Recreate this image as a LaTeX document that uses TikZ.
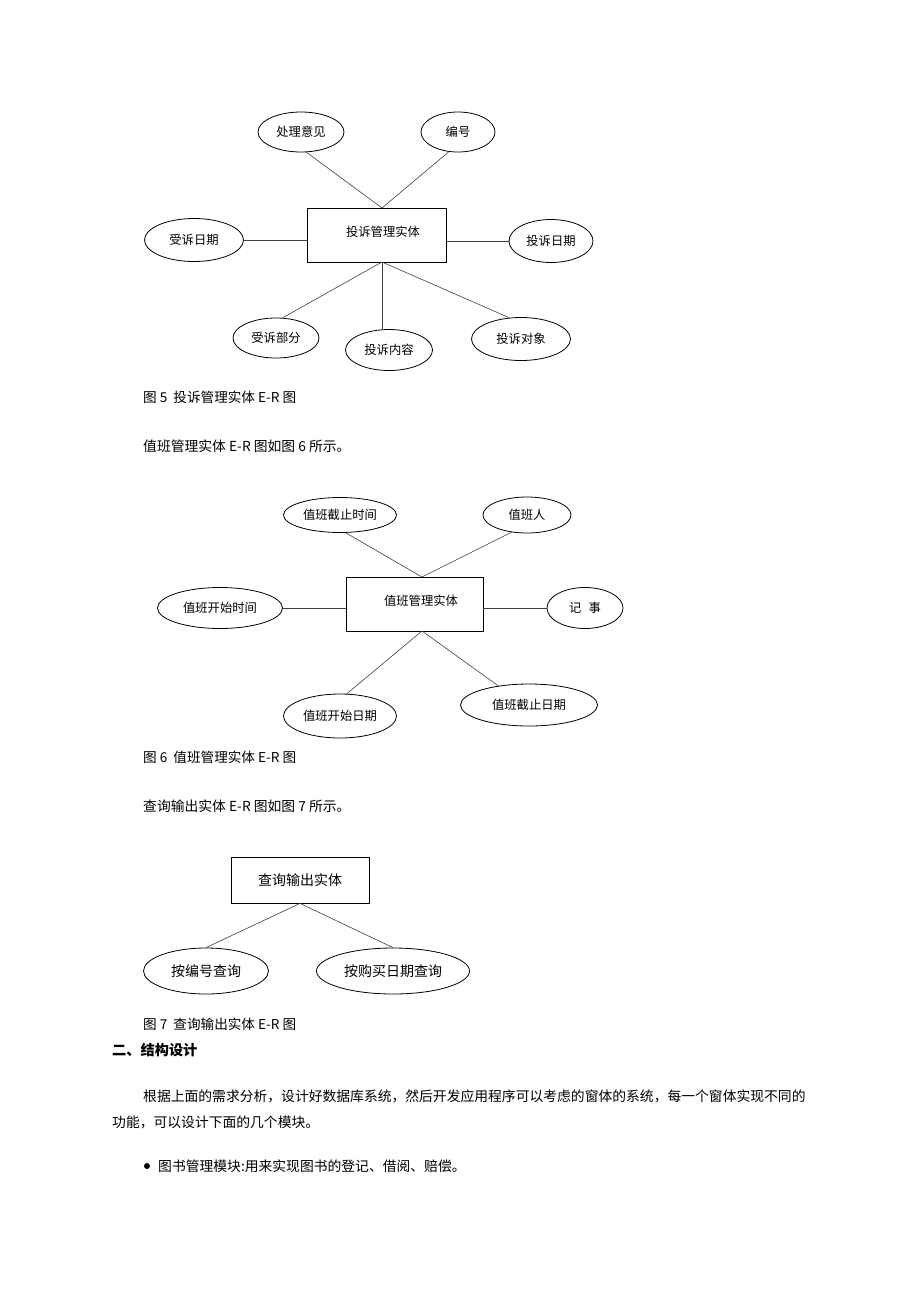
\documentclass[tikz,border=0pt]{standalone}
\usepackage{fontspec}
\setmainfont{Noto Sans CJK SC}
\usetikzlibrary{shapes.geometric}
\begin{document}
\begin{tikzpicture}[x=1pt,y=-1pt,
  attr/.style={ellipse,draw,line width=0.8pt,inner sep=0pt,font=\fontsize{12.3}{14}\selectfont},
  attrb/.style={attr,font=\fontsize{14}{16}\selectfont},
  ent/.style={rectangle,draw,line width=0.8pt,inner sep=0pt,font=\fontsize{12.3}{14}\selectfont},
  link/.style={line width=0.6pt,draw=black!75},
  txt/.style={anchor=west,inner sep=0pt,font=\fontsize{13.8}{16}\selectfont},
  captxt/.style={anchor=west,inner sep=0pt,font=\fontsize{13.6}{16}\selectfont}]
\fill[white] (0,0) rectangle (920,1302);
\useasboundingbox (0,0) rectangle (920,1302);

% ---------- Figure 5 ----------
\node[ent,minimum width=139pt,minimum height=54pt] (r5) at (376.5,235) {};
\node (r5t) at (383,232) {\fontsize{12.3}{14}\selectfont 投诉管理实体};
\coordinate (t5) at (382,208);
\coordinate (b5) at (382,262);
\node[attr,minimum width=86pt,minimum height=40pt] (a1) at (301,132) {处理意见};
\node[attr,minimum width=74pt,minimum height=40pt] (a2) at (458,132) {编号};
\node[attr,minimum width=99pt,minimum height=43pt] (a3) at (194,240) {受诉日期};
\node[attr,minimum width=84pt,minimum height=43pt] (a4) at (551,241) {投诉日期};
\node[attr,minimum width=86pt,minimum height=40pt] (a5) at (276,338) {受诉部分};
\node[attr,minimum width=87pt,minimum height=41pt] (a6) at (389,350) {投诉内容};
\node[attr,minimum width=99pt,minimum height=43pt] (a7) at (521,339) {投诉对象};
\draw[link] (a1.-75) -- (t5);
\draw[link] (a2.-115) -- (t5);
\draw[link] (a3.east) -- (a3.east -| r5.west);
\draw[link] (a4.west) -- (a4.west -| r5.east);
\draw[link] (b5) -- (a5.72);
\draw[link] (b5) -- (b5 |- a6.north);
\draw[link] (b5) -- (a7.119);
\node[captxt] (cap5) at (143,397) {图 5\ \ 投诉管理实体 E-R 图};
\node[txt] (p6) at (143,446) {值班管理实体 E-R 图如图 6 所示。};

% ---------- Figure 6 ----------
\node[ent,minimum width=137pt,minimum height=54pt] (r6) at (414.5,604) {};
\node (r6t) at (421,601) {\fontsize{12.3}{14}\selectfont 值班管理实体};
\coordinate (t6) at (422,577);
\coordinate (b6) at (422,631);
\node[attr,minimum width=113pt,minimum height=35pt] (c1) at (340,515) {值班截止时间};
\node[attr,minimum width=88pt,minimum height=36pt] (c2) at (527,515) {值班人};
\node[attr,minimum width=125pt,minimum height=41pt] (c3) at (220,608) {值班开始时间};
\node[attr,minimum width=76pt,minimum height=41pt] (c4) at (585,608) {记\hspace{0.6em}事};
\node[attr,minimum width=113pt,minimum height=44pt] (c5) at (340,716) {值班开始日期};
\node[attr,minimum width=137pt,minimum height=42pt] (c6) at (529,705) {值班截止日期};
\draw[link] (c1.-72) -- (t6);
\draw[link] (c2.-132) -- (t6);
\draw[link] (c3.east) -- (c3.east -| r6.west);
\draw[link] (c4.west) -- (c4.west -| r6.east);
\draw[link] (b6) -- (c5.73);
\draw[link] (b6) -- (c6.148);
\node[captxt] (cap6) at (143,757) {图 6\ \ 值班管理实体 E-R 图};
\node[txt] (p7) at (143,806) {查询输出实体 E-R 图如图 7 所示。};

% ---------- Figure 7 ----------
\node[ent,minimum width=138pt,minimum height=46pt,font=\fontsize{14}{16}\selectfont] (r7) at (300,880) {查询输出实体};
\node[attrb,minimum width=125pt,minimum height=46pt] (d1) at (206,971) {按编号查询};
\node[attrb,minimum width=153pt,minimum height=46pt] (d2) at (393,971) {按购买日期查询};
\draw[link] (r7.south) -- (d1.north);
\draw[link] (r7.south) -- (d2.north);
\node[captxt] (cap7) at (143,1024) {图 7\ \ 查询输出实体 E-R 图};

% ---------- Text ----------
\node[txt,font=\fontsize{14.2}{16}\selectfont\bfseries] (h2) at (112,1050) {二、结构设计};
\node[txt] (l1) at (143,1096) {根据上面的需求分析，设计好数据库系统，然后开发应用程序可以考虑的窗体的系统，每一个窗体实现不同的};
\node[txt] (l2) at (112,1122) {功能，可以设计下面的几个模块。};
\fill (147,1166) circle (3pt);
\node[txt] (l3) at (158,1166) {图书管理模块:用来实现图书的登记、借阅、赔偿。};
\end{tikzpicture}
\end{document}
